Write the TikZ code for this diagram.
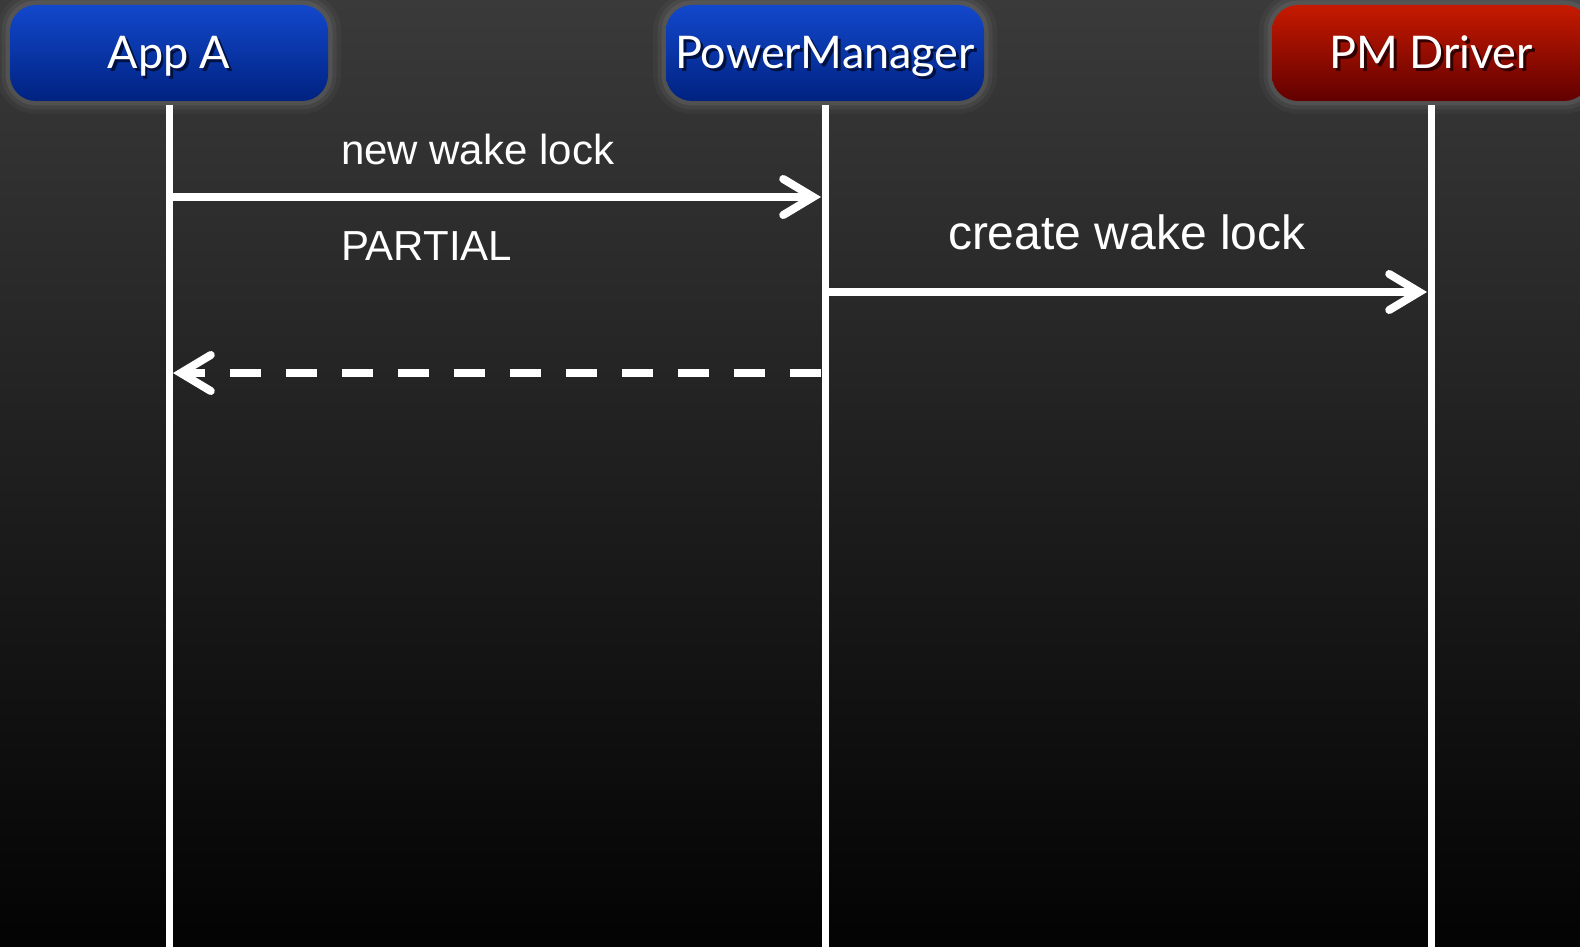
\documentclass[tikz,border=0pt]{standalone}
\usepackage{fontspec}
\setmainfont{Liberation Sans}
\newfontfamily\headfont{Lato}
\definecolor{bgtop}{RGB}{58,58,58}
\definecolor{bgbot}{RGB}{3,3,3}
\definecolor{headblue}{RGB}{18,72,204}
\definecolor{headbluedark}{RGB}{0,34,128}
\definecolor{headred}{RGB}{198,26,0}
\definecolor{headreddark}{RGB}{98,0,0}
\newcommand{\shadowed}[2]{\makebox[0pt][l]{\hspace{3pt}\raisebox{-3pt}{\textcolor{#1}{#2}}}#2}
\usetikzlibrary{arrows.meta}

\begin{document}
\begin{tikzpicture}[
            x = 1pt, y = -1pt, % pixel units, y goes down
            > = {Straight Barb[length=30pt, width=36pt, line cap=round]}, % arrow head style
            shorten > = 4pt, % don't touch lifeline with arrow head
            shorten < = 4pt,
            node distance = 656pt, % distance between lifelines
            line width = 8pt, % line style
        ]

        \tikzstyle{head}=[
            rounded corners = 26pt,
            minimum width = 318pt,
            minimum height = 96pt,
            inner sep = 0pt,
            text = white,
            font = \headfont\fontsize{45pt}{54pt}\selectfont,
            text height = 32pt, text depth = 0pt,
            preaction = {draw=white, draw opacity=.03, line width=26pt},
            preaction = {draw=white, draw opacity=.05, line width=17pt},
            preaction = {draw=white, draw opacity=.07, line width=9pt}
        ]
        \tikzstyle{msg}=[
            text = white,
            inner sep = 0pt,
            anchor = west,
            font = \fontsize{42pt}{50pt}\selectfont
        ]

        \useasboundingbox (0,0) rectangle (1580,947);
        \fill[top color=bgtop, bottom color=bgbot] (0,0) rectangle (1580,947);

        \node[head, top color=headblue, bottom color=headbluedark] (appa) at (169,53) {\shadowed{headbluedark!50!black}{App A}};
        \node[head, top color=headblue, bottom color=headbluedark] (pm) [right of=appa] {\shadowed{headbluedark!50!black}{PowerManager}};
        \node[head, top color=headred, bottom color=headreddark] (pmdrv) [right of=pm, node distance=606pt] {\shadowed{headreddark!50!black}{PM Driver}};

        \coordinate (bottom) at (0,947);
        \coordinate (m1) at (0,197);
        \coordinate (m2) at (0,292);
        \coordinate (m3) at (0,373);

        \foreach \n in {appa, pm, pmdrv}
            \draw[white, line width=7pt, shorten > = 0pt, shorten < = 0pt] (\n.south) -- (\n.south |- bottom);

        \node[msg] (newlock) at (337,149) {new wake lock};
        \node[msg] (partial) at (337,246) {PARTIAL};
        \node[msg, font=\fontsize{48pt}{56pt}\selectfont] (createlock) at (944,232) {create wake lock};

        \draw[->, white] (appa.south |- m1) -- (pm.south |- m1);
        \draw[->, white] (pm.south |- m2) -- (pmdrv.south |- m2);
        \draw[->, white, dash pattern=on 31pt off 25pt] (pm.south |- m3) -- (appa.south |- m3);
    \end{tikzpicture}
\end{document}
